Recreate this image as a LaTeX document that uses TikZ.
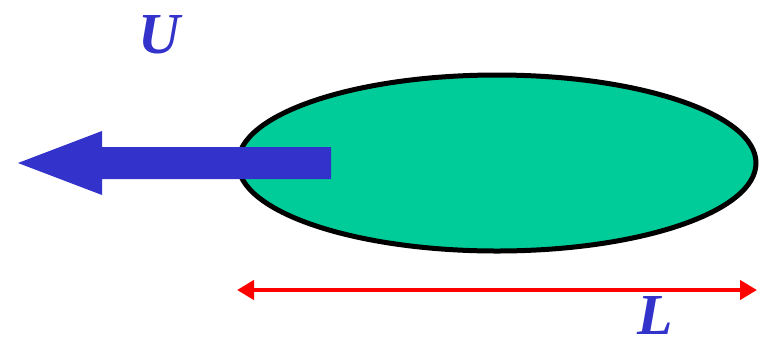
\documentclass[tikz,border=0pt]{standalone}
\usepackage{fontspec}
\setmainfont{Liberation Serif}
\usetikzlibrary{arrows.meta}
\definecolor{bodygreen}{RGB}{0,204,153}
\definecolor{ublue}{RGB}{51,51,204}
\tikzset{
  lbl/.style={text=ublue, font=\fontsize{58}{60}\selectfont\bfseries\itshape, inner sep=0pt},
  body/.style={draw=black, line width=5pt, fill=bodygreen, ellipse, minimum width=518pt, minimum height=176pt},
}
\usetikzlibrary{shapes.geometric}
\begin{document}
\begin{tikzpicture}[x=1pt,y=-1pt]
\useasboundingbox (0,0) rectangle (768,341);
\node[body] (ell) at (497,163) {};
\fill[ublue] (331,147) -- (102,147) -- (102,131) -- (18,163) -- (102,195) -- (102,179) -- (331,179) -- cycle;
\coordinate (la) at (237,290);
\coordinate (lb) at (757,290);
\draw[red, line width=4.5pt, {Triangle[length=17pt,width=19pt]}-{Triangle[length=17pt,width=19pt]}] (la) -- (lb);
\node[lbl] (U) at (159,35) {U};
\node[lbl] (L) at (655,316) {L};
\end{tikzpicture}
\end{document}
